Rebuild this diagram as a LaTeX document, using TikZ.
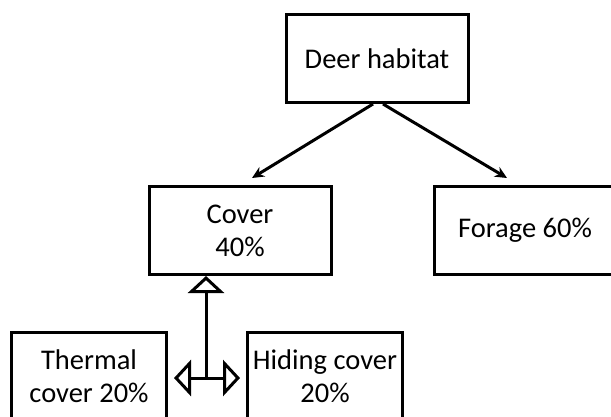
\documentclass[tikz,border=0pt]{standalone}
\usepackage{fontspec}
\setmainfont{Carlito}
\usepackage{tikz}
\usetikzlibrary{arrows.meta,positioning,calc}
\definecolor{habInk}{HTML}{000000}
\definecolor{habPaper}{HTML}{FFFFFF}
\tikzset{
  habbox/.style={rectangle,draw=habInk,fill=habPaper,line width=3pt,inner sep=0pt,
    minimum height=88pt,align=center,font=\fontsize{28.5}{33}\selectfont},
  arrow/.style={-{Stealth[length=12pt,width=11pt]},line width=3pt,draw=habInk},
  genarrow/.style={-{Triangle[open,fill=habPaper,length=17pt,width=36pt]},line width=3pt,draw=habInk}
}

\begin{document}
\begin{tikzpicture}[x=1pt,y=1pt]
  \clip (0,0) rectangle (611,-416);
  \useasboundingbox (0,0) rectangle (611,-416);
  \node[habbox, minimum width=182pt] (deer) at (377,-58.5) {Deer habitat};
  \node[habbox, minimum width=182pt, below=81pt of deer, xshift=-137pt] (cover) {Cover\\40\%};
  \node[habbox, minimum width=190pt, right=100pt of cover] (forage) {\hspace*{-8pt}Forage 60\%};
  \node[habbox, minimum width=155pt, below=55pt of cover, xshift=-151pt] (thermal) {Thermal\\cover 20\%};
  \node[habbox, minimum width=155pt, right=78pt of thermal] (hiding) {Hiding cover\\20\%};
  \coordinate (hub) at (206,-378);
  \draw[arrow] ([xshift=-4pt]deer.south) -- ([xshift=12pt,yshift=7pt]cover.north);
  \draw[arrow] ([xshift=6pt]deer.south) -- ([xshift=-22pt,yshift=7pt]forage.north);
  \draw[genarrow] (hub) -- ($(cover.south)+(-34pt,0)$);
  \draw[genarrow] (hub) -- ($(thermal.east |- hub)+(6pt,0)$);
  \draw[genarrow] (hub) -- ($(hiding.west |- hub)+(-6pt,0)$);
\end{tikzpicture}
\end{document}
